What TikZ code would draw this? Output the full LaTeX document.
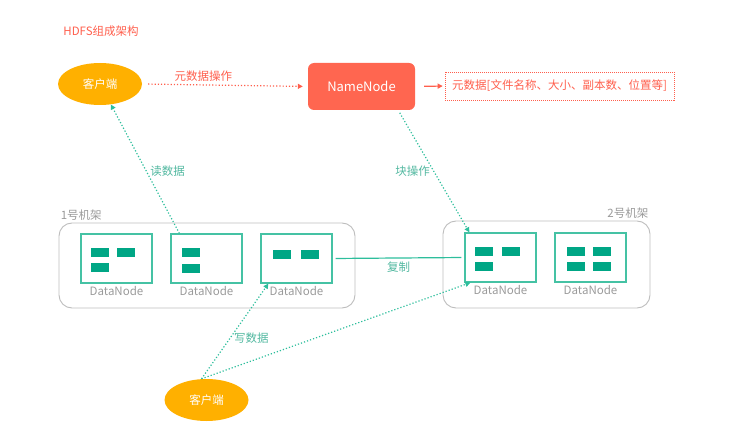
\documentclass[tikz,border=0pt]{standalone}
\usepackage{fontspec}
\setmainfont{Noto Sans CJK SC}
\usetikzlibrary{arrows.meta}
\usetikzlibrary{shapes.geometric}
\definecolor{hdfsred}{HTML}{FF5F4D}
\definecolor{nnred}{HTML}{FF6650}
\definecolor{cliorange}{HTML}{FFB000}
\definecolor{blkteal}{HTML}{00A685}
\definecolor{boxteal}{HTML}{45C2A4}
\definecolor{arrteal}{HTML}{2DBE9C}
\definecolor{lblteal}{HTML}{52B8A0}
\definecolor{rackgray}{HTML}{BDBDBD}
\definecolor{txtgray}{HTML}{9A9A9A}
\tikzset{client/.style = {ellipse, fill=cliorange, text=white, inner sep=0pt,
                          minimum width=84pt, minimum height=42pt},
         namenode/.style = {fill=nnred, text=white, rounded corners=6pt,
                            minimum width=107pt, minimum height=47pt,
                            font=\fontsize{13}{15}\selectfont},
         rack/.style = {draw=rackgray, line width=0.9pt, rounded corners=13pt},
         datanode/.style = {draw=boxteal, line width=1.3pt, inner sep=0pt,
                            minimum width=71pt, minimum height=49pt,
                            label={[text=txtgray, inner sep=2pt]below:DataNode}},
         block/.style = {fill=blkteal},
         reddots/.style = {draw=hdfsred, line width=1.2pt, dash pattern=on 1.2pt off 2pt,
                           -{Triangle[length=5pt, width=5pt]}},
         tealdots/.style = {draw=arrteal, line width=1.2pt, dash pattern=on 1.2pt off 2pt,
                            -{Triangle[length=5pt, width=5pt]}},
         tag/.style = {text=lblteal}}

\begin{document}
\begin{tikzpicture}[x=1pt, y=-1pt, font=\fontsize{11.5}{14}\selectfont]
  \useasboundingbox (0, 0) rectangle (749, 446);

  \node [text=hdfsred] (title) at (101, 31) {HDFS组成架构};

  \node [client] (cli1) at (100, 84) {客户端};
  \node [namenode] (nn) at (361.5, 86.5) {NameNode};
  \node [draw=hdfsred, line width=0.6pt, dash pattern=on 1pt off 1pt, text=hdfsred,
         minimum width=229pt, minimum height=28pt] (meta) at (559.5, 86) {元数据[文件名称、大小、副本数、位置等]};

  \node [rack, minimum width=296pt, minimum height=85pt] (rack1) at (207, 265.5) {};
  \node [rack, minimum width=207pt, minimum height=87pt] (rack2) at (546.5, 264.5) {};
  \node [text=txtgray, above right, inner sep=2pt] (r1lbl) at (rack1.north west) {1号机架};
  \node [text=txtgray, above left, inner sep=2pt] (r2lbl) at (rack2.north east) {2号机架};

  \node [datanode] (dn1) at (116.5, 258.5) {};
  \node [datanode] (dn2) at (206.5, 258.5) {};
  \node [datanode] (dn3) at (296.5, 258.5) {};
  \node [datanode] (dn4) at (500.5, 257.5) {};
  \node [datanode] (dn5) at (590.5, 257.5) {};

  \foreach \dx/\dy in {11/15, 37/15, 11/30}
    \fill [block] ([shift={(\dx, \dy)}]dn1.north west) rectangle +(18, 9);
  \foreach \dx/\dy in {12/15, 12/31}
    \fill [block] ([shift={(\dx, \dy)}]dn2.north west) rectangle +(18, 9);
  \foreach \dx/\dy in {13/17, 41/17}
    \fill [block] ([shift={(\dx, \dy)}]dn3.north west) rectangle +(18, 9);
  \foreach \dx/\dy in {11/15, 38/15, 11/30}
    \fill [block] ([shift={(\dx, \dy)}]dn4.north west) rectangle +(18, 9);
  \foreach \dx/\dy in {13/15, 39/15, 13/30, 39/30}
    \fill [block] ([shift={(\dx, \dy)}]dn5.north west) rectangle +(18, 9);

  \node [client] (cli2) at (206.5, 400) {客户端};

  \draw [reddots, shorten <=6pt, shorten >=5pt] (cli1.east) -- (nn.west)
        node [tag, text=hdfsred, above, pos=0.37] {元数据操作};
  \draw [hdfsred, line width=1.2pt, -{Triangle[length=5pt, width=5pt]},
         shorten <=9pt, shorten >=2pt] (nn.east) -- (meta.west);

  \draw [tealdots] ([xshift=9pt]dn2.north west) -- (cli1)
        node [tag, right, pos=0.48] {读数据};
  \draw [tealdots, shorten <=3pt] ([xshift=-17pt]nn.south east) -- ([xshift=5pt]dn4.north west)
        node [tag, left, midway] {块操作};

  \draw [draw=arrteal, line width=1.2pt, shorten <=3pt, shorten >=3pt] (dn3.east) -- (dn4.west)
        node [tag, below, midway] {复制};

  \draw [tealdots] ([xshift=-5pt]cli2.north) -- ([xshift=8pt]dn3.south west)
        node [tag, right, pos=0.43] {写数据};
  \draw [tealdots] ([xshift=-5pt]cli2.north) -- ([xshift=6pt]dn4.south west);
\end{tikzpicture}
\end{document}
